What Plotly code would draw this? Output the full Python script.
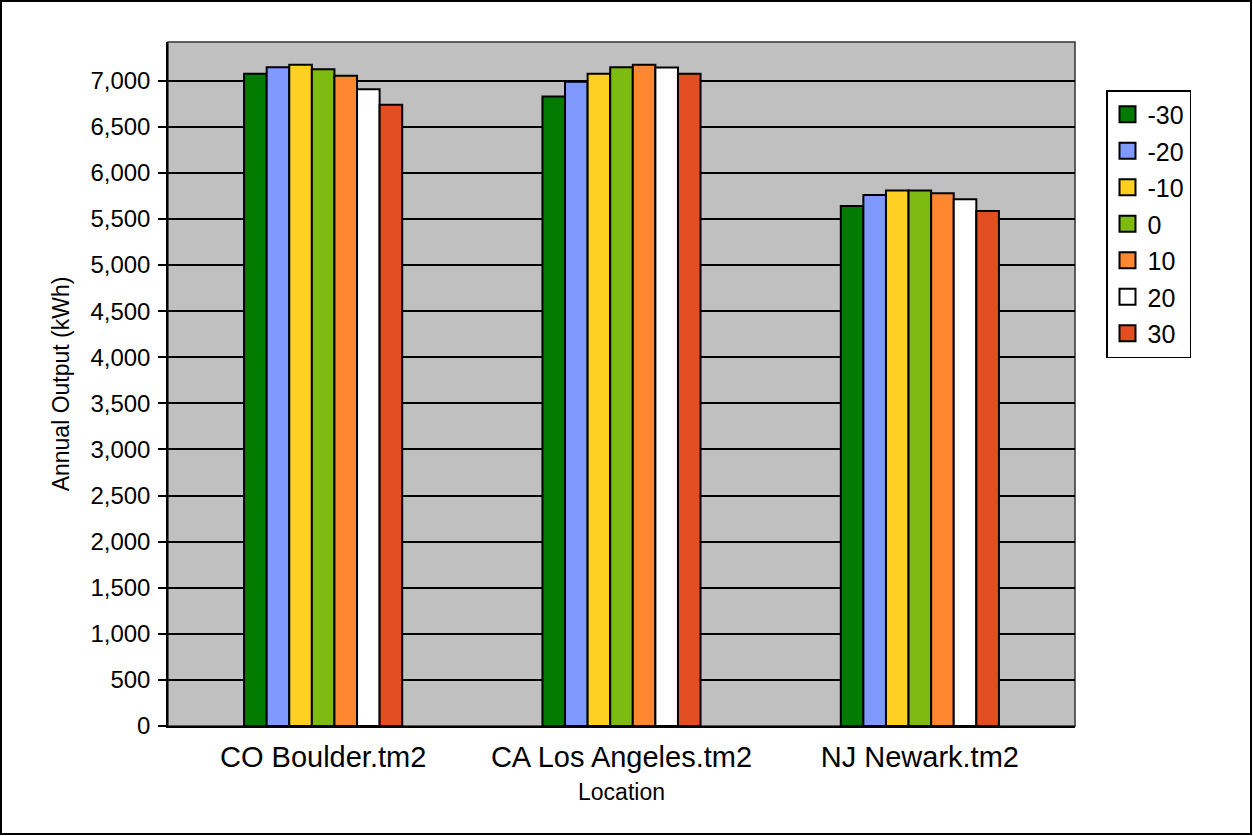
import plotly.graph_objects as go

# Data
locations = ["CO Boulder.tm2", "CA Los Angeles.tm2", "NJ Newark.tm2"]
angles = ["-30", "-20", "-10", "0", "10", "20", "30"]
output_by_angle = {
    "-30": [7075, 6828, 5642],
    "-20": [7147, 6990, 5761],
    "-10": [7172, 7075, 5808],
    "0":   [7125, 7147, 5808],
    "10":  [7053, 7172, 5779],
    "20":  [6908, 7143, 5714],
    "30":  [6738, 7075, 5588],
}
colors = ["#007A00", "#8099FF", "#FFD021", "#7DBB12", "#FF8730", "#FFFFFF", "#E24E22"]

fig = go.Figure()

for i, angle in enumerate(angles):
    fig.add_trace(go.Bar(
        x=locations,
        y=output_by_angle[angle],
        name=angle,
        showlegend=False,
        marker=dict(color=colors[i], line=dict(color="black", width=2)),
    ))
    # legend-only entry with a bigger square swatch
    fig.add_trace(go.Scatter(
        x=[locations[0]], y=[None],
        name=angle, legendgroup=angle,
        mode="markers",
        marker=dict(symbol="square", size=22, color=colors[i],
                    line=dict(color="black", width=2)),
        hoverinfo="skip",
    ))

# plot area in pixels: x 168..1075, y 42..726
l, r, t, b = 168, 178, 42, 110
pw, ph = 1253 - l - r, 836 - t - b

fig.update_layout(
    width=1253, height=836,
    margin=dict(l=l, r=r, t=t, b=b),
    paper_bgcolor="white",
    plot_bgcolor="#C0C0C0",
    font=dict(family="Liberation Sans, Arial", color="black", size=22),
    barmode="group",
    bargap=0.47,
    bargroupgap=0,
    showlegend=True,
    legend=dict(
        x=(1106 - l) / pw, y=(726 - 90) / ph,
        xanchor="left", yanchor="top",
        bordercolor="black", borderwidth=1.5,
        bgcolor="white",
        font=dict(size=25),
        tracegroupgap=1,
        itemsizing="trace",
    ),
    xaxis=dict(
        title=dict(text="Location", font=dict(size=23), standoff=12),
        tickfont=dict(size=29),
        ticklabelstandoff=4,
        range=[-0.52, 2.52],
        showline=True, linecolor="black", linewidth=2,
        ticks="",
    ),
    yaxis=dict(
        title=dict(text="Annual Output (kWh)", font=dict(size=23), standoff=14),
        range=[0, 7420],
        dtick=500,
        tickformat=",",
        tickfont=dict(size=24),
        ticklabelstandoff=3,
        ticks="outside", ticklen=8, tickcolor="black", tickwidth=1.5,
        showgrid=True, gridcolor="black", gridwidth=1.5,
        showline=True, linecolor="black", linewidth=1.5,
        zeroline=False,
    ),
    shapes=[
        # plot frame
        dict(type="rect", xref="paper", yref="paper", x0=0, x1=1, y0=0, y1=1,
             line=dict(color="#333333", width=1.5), layer="below"),
        # outer image border
        dict(type="rect", xref="paper", yref="paper",
             x0=(1 - l) / pw, x1=(1251 - l) / pw,
             y0=(726 - 834) / ph, y1=(726 - 1) / ph,
             line=dict(color="black", width=2)),
    ],
)

fig.write_html("out.html", config={"displayModeBar": False},
               post_script="document.body.style.margin='0';")
